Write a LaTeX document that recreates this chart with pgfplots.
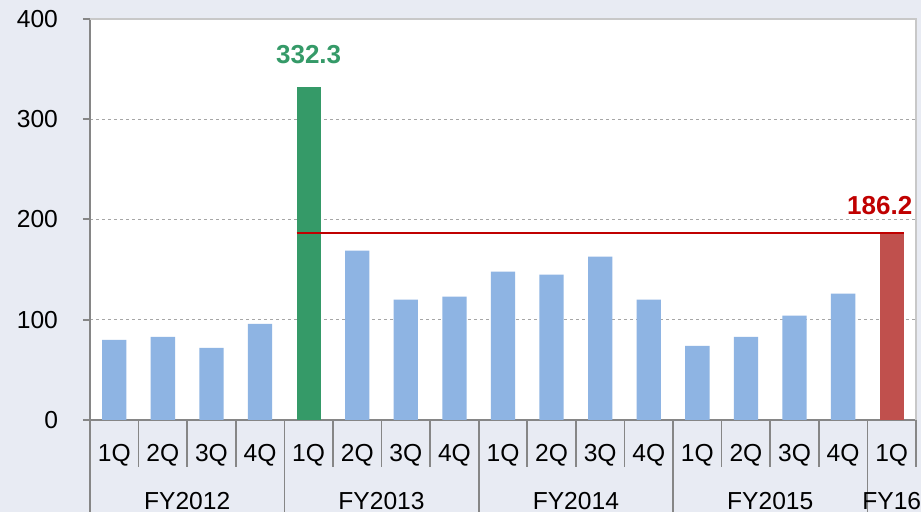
\documentclass[border=0pt]{standalone}
\usepackage{fontspec}
\setmainfont{Liberation Sans}
\usepackage{pgfplots}
\pgfplotsset{compat=1.18}

\definecolor{bgc}{RGB}{232,235,243}
\definecolor{axgray}{RGB}{134,134,134}
\definecolor{bordergray}{RGB}{200,200,200}
\definecolor{barblue}{RGB}{142,180,227}
\definecolor{bargreen}{RGB}{53,154,104}
\definecolor{barred}{RGB}{192,80,77}
\definecolor{linered}{RGB}{192,0,0}

\begin{document}
\begin{tikzpicture}
\useasboundingbox (0,0) rectangle (460.5pt,256pt);
\clip (0,0) rectangle (460.5pt,256pt);
\fill[bgc] (0,0) rectangle (460.5pt,256pt);
\begin{axis}[
    at={(45pt,46pt)}, anchor=south west,
    scale only axis, width=413pt, height=200.5pt,
    xmin=-0.5, xmax=16.5, ymin=0, ymax=400,
    clip=false,
    axis background/.style={fill=white},
    axis lines=left,
    axis line style={-, draw=axgray, line width=1pt},
    font=\fontsize{12.3}{14}\selectfont,
    xtick={0,...,16},
    xticklabels={1Q,2Q,3Q,4Q,1Q,2Q,3Q,4Q,1Q,2Q,3Q,4Q,1Q,2Q,3Q,4Q,1Q},
    xtick style={draw=none},
    xticklabel style={anchor=center, yshift=-14pt},
    ytick={0,100,200,300,400},
    ytick style={draw=axgray, line width=1pt},
    tick align=outside,
    major tick length=3.5pt,
    yticklabel style={anchor=east, xshift=-9pt},
    ymajorgrids,
    major grid style={dash pattern=on 1.5pt off 1.5pt, draw=gray!70, line width=0.5pt},
    ybar, bar width=0.5,
    /pgf/number format/assume math mode=true,
]
% ordinary quarters
\addplot[fill=barblue, draw=none, bar shift=0pt] coordinates {
    (0,80) (1,83) (2,72) (3,96)
    (5,169) (6,120) (7,123)
    (8,148) (9,145) (10,163) (11,120)
    (12,74) (13,83) (14,104) (15,126)
};
% peak quarter
\addplot[fill=bargreen, draw=none, bar shift=0pt,
    nodes near coords,
    every node near coord/.append style={font=\fontsize{13}{15}\selectfont\bfseries, color=bargreen, anchor=south, yshift=8pt}]
    coordinates {(4,332.3)};
% latest quarter
\addplot[fill=barred, draw=none, bar shift=0pt,
    nodes near coords,
    every node near coord/.append style={font=\fontsize{13}{15}\selectfont\bfseries, color=linered, anchor=south, yshift=6pt, xshift=-6pt}]
    coordinates {(16,186.2)};
% reference line at the latest value
\addplot[sharp plot, linered, line width=1pt] coordinates {(3.75,186.2) (16.25,186.2)};

% top and right border
\draw[bordergray, line width=0.6pt] (rel axis cs:0,1) -- (rel axis cs:1,1) -- (rel axis cs:1,0);
% category separators
\pgfplotsinvokeforeach{0.5,1.5,2.5,4.5,5.5,6.5,8.5,9.5,10.5,12.5,13.5,14.5,16.5}{
    \draw[axgray, line width=0.8pt] (axis cs:#1,0) -- ++(0pt,-23.5pt);
}
\pgfplotsinvokeforeach{-0.5,3.5,7.5,11.5,15.5}{
    \draw[axgray, line width=0.8pt] (axis cs:#1,0) -- ++(0pt,-50pt);
}
% year labels
\node[font=\fontsize{12.3}{14}\selectfont] at ([yshift=-40.5pt]axis cs:1.5,0) {FY2012};
\node[font=\fontsize{12.3}{14}\selectfont] at ([yshift=-40.5pt]axis cs:5.5,0) {FY2013};
\node[font=\fontsize{12.3}{14}\selectfont] at ([yshift=-40.5pt]axis cs:9.5,0) {FY2014};
\node[font=\fontsize{12.3}{14}\selectfont] at ([yshift=-40.5pt]axis cs:13.5,0) {FY2015};
\node[font=\fontsize{12.3}{14}\selectfont] at ([yshift=-40.5pt]axis cs:16,0) {FY16};
\end{axis}
\end{tikzpicture}
\end{document}
